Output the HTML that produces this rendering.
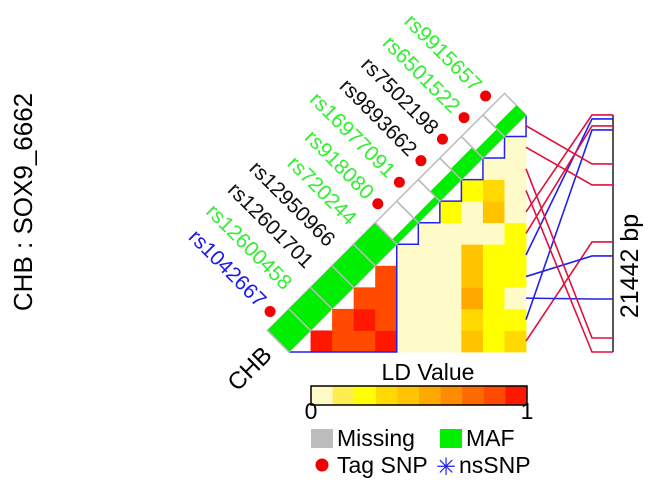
<!DOCTYPE html>
<html><head><meta charset="utf-8">
<style>
html,body{margin:0;padding:0;background:#fff;}
svg{display:block;font-family:"Liberation Sans",Arial,sans-serif;}
</style></head>
<body>
<svg id="chart" width="650" height="492" viewBox="0 0 650 492" xmlns="http://www.w3.org/2000/svg">
  <text x="0" y="0" font-size="26" text-anchor="middle" dominant-baseline="central" transform="translate(23,202) rotate(-90)">CHB : SOX9_6662</text>
  <text x="0" y="0" font-size="24" text-anchor="middle" dominant-baseline="central" transform="translate(250,369) rotate(-45)">CHB</text>
  <g id="cells"></g>
  <g id="band"></g>
  <g id="labels"></g>
  <g id="posmap"></g>
  <text x="0" y="0" font-size="25" text-anchor="middle" dominant-baseline="central" transform="translate(630,266) rotate(-90)">21442 bp</text>
  <g id="legend">
    <text x="428" y="380" font-size="23" text-anchor="middle">LD Value</text>
    <g id="colorbar"></g>
    <text x="311" y="419" font-size="23" text-anchor="middle">0</text>
    <text x="527" y="419" font-size="23" text-anchor="middle">1</text>
    <rect x="311" y="429" width="22" height="19" fill="#BDBDBD"/>
    <text x="337" y="446" font-size="23">Missing</text>
    <rect x="440" y="429" width="22" height="19" fill="#00EE00"/>
    <text x="466" y="446" font-size="23">MAF</text>
    <circle cx="322" cy="465" r="6.5" fill="#F00000"/>
    <text x="337" y="473" font-size="23">Tag SNP</text>
    <text x="446" y="475" font-size="24" fill="#2222EE" text-anchor="middle">✳</text>
    <text x="459" y="473" font-size="23">nsSNP</text>
  </g>
</svg>
<script>
// ---- data ----
const snpNames = ["rs1042667","rs12600458","rs12601701","rs12950966","rs720244","rs918080","rs16977091","rs9893662","rs7502198","rs6501522","rs9915657"];
const snpLabelColors = ["#1A1AEE","#33EE33","#111111","#111111","#33EE33","#33EE33","#33EE33","#111111","#111111","#33EE33","#33EE33"];
const tagSnp = [1,0,0,0,0,1,1,1,1,1,1];
const mafFraction = [1,1,1,1,1,0.22,0.22,0.45,0.5,0.35,0.45];
// ld values: ldValues[i][j] = LD between SNP i and SNP j (j < i)
const ldValues = [
  [],
  [0.95],
  [0.85,0.88],
  [0.85,0.95,0.85],
  [0.95,0.88,0.85,0.85],
  [0.05,0.05,0.05,0.05,0.05],
  [0.05,0.05,0.05,0.05,0.05,0.05],
  [0.05,0.05,0.05,0.05,0.05,0.05,0.25],
  [0.45,0.35,0.55,0.45,0.45,0.05,0.05,0.25],
  [0.25,0.25,0.25,0.25,0.25,0.05,0.45,0.35,0.05],
  [0.35,0.25,0.05,0.25,0.25,0.25,0.05,0.05,0.05,0.05]
];
const snpPositionsBp = [11490,1357,16647,12756,360,995,0,21442,20175,6333,4433];
const regionLengthBp = 21442;
const ldPalette = ["#FFFBC8","#FFEE50","#FFFF00","#FFD900","#FFC300","#FFA800","#FF8C00","#FF6A00","#FF4A00","#FF1800"];

// ---- geometry ----
const NS = "http://www.w3.org/2000/svg";
const N = snpNames.length;
const X0 = 289, Y1 = 352, CELL = 21.55;
const xC = c => X0 + c*CELL;
const yR = r => Y1 - N*CELL + r*CELL;
const S = CELL*Math.SQRT2;
const ux = 1/Math.SQRT2, uy = -1/Math.SQRT2, nx = -1/Math.SQRT2, ny = -1/Math.SQRT2;
const pt = (along, perp) => [X0 + along*ux + perp*nx, Y1 + along*uy + perp*ny];
function mk(tag, attrs, parent){const e=document.createElementNS(NS,tag);for(const k in attrs)e.setAttribute(k,attrs[k]);parent.appendChild(e);return e;}
const colorFor = v => ldPalette[Math.min(9, Math.floor(v*10))];

// cells
const cells = document.getElementById('cells');
for (let i=1;i<N;i++){
  for (let j=0;j<i;j++){
    const r = N-1-j;
    const e = mk('rect',{x:xC(i),y:yR(r),width:CELL+0.4,height:CELL+0.4,fill:colorFor(ldValues[i][j])},cells);
    
    
  }
}
// block outlines
let d = `M${xC(0)},${Y1} L${xC(5)},${Y1} L${xC(5)},${yR(6)} `;
for (let k=5;k<N;k++){ d += `L${xC(k)},${yR(N-k)} L${xC(k+1)},${yR(N-k)} L${xC(k+1)},${yR(N-1-k)} `; }
const blk = mk('path',{d:d,fill:'none',stroke:'#2222EE','stroke-width':1.5},cells);



// MAF band
const band = document.getElementById('band');
const poly = pts => pts.map(p=>p.join(',')).join(' ');
for (let k=0;k<N;k++){
  const a0=k*S, a1=(k+1)*S, g=mafFraction[k]*S;
  const w = mk('polygon',{points:poly([pt(a0,0),pt(a1,0),pt(a1,S),pt(a0,S)]),fill:'#fff',stroke:'#BBBBBB','stroke-width':1.5},band);
  
  
  const gr = mk('polygon',{points:poly([pt(a0,0),pt(a1,0),pt(a1,g),pt(a0,g)]),fill:'#00EE00'},band);
  
  
  const sep = mk('line',{x1:pt(a0,0)[0],y1:pt(a0,0)[1],x2:pt(a0,S)[0],y2:pt(a0,S)[1],stroke:'#BBBBBB','stroke-width':1.5},band);
  
  
}

// labels + tag dots
const labels = document.getElementById('labels');
for (let k=0;k<N;k++){
  const along=(k+0.5)*S;
  const endP = pt(along, tagSnp[k]?53:47);
  const t = mk('text',{x:endP[0],y:endP[1],'font-size':21,fill:snpLabelColors[k],'text-anchor':'end','dominant-baseline':'central',transform:`rotate(45 ${endP[0]} ${endP[1]})`},labels);
  t.textContent = snpNames[k];
  
  
  if (tagSnp[k]){
    const dp = pt(along, 42);
    const c = mk('circle',{cx:dp[0],cy:dp[1],r:5.5,fill:'#F00000'},labels);
    
    
  }
}

// position map
const pm = document.getElementById('posmap');
const axTop = yR(0), axBot = Y1;
const yPos = bp => axTop + bp/regionLengthBp*(axBot-axTop);
const ax = mk('line',{x1:613,y1:axTop,x2:613,y2:axBot,stroke:'#222','stroke-width':1.5},pm);


for (let k=0;k<N;k++){
  const r = N-1-k;
  const yl = yR(r)+CELL/2, yr = yPos(snpPositionsBp[k]);
  const col = tagSnp[k] ? '#E0103A' : '#2222EE';
  const l = mk('polyline',{points:`526,${yl} 592,${yr} 613,${yr}`,fill:'none',stroke:col,'stroke-width':1.6},pm);
  
  
}

// colorbar
const cb = document.getElementById('colorbar');
const cbX=311, cbW=216;
for (let i=0;i<ldPalette.length;i++){
  const r = mk('rect',{x:cbX+i*cbW/10,y:386,width:cbW/10+0.3,height:19,fill:ldPalette[i]},cb);
  
  
}
const bd = mk('rect',{x:cbX,y:386,width:cbW,height:19,fill:'none',stroke:'#000','stroke-width':1.5},cb);


</script>
</body></html>
